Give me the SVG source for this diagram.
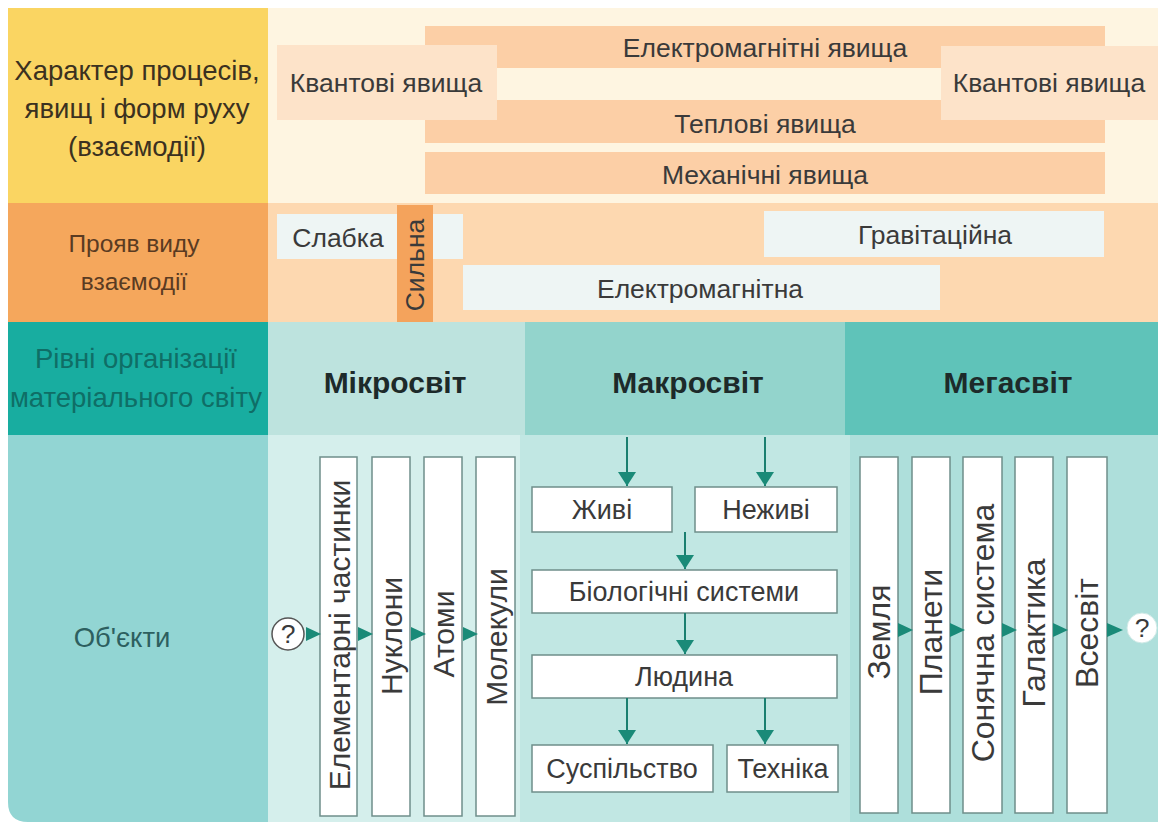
<svg xmlns="http://www.w3.org/2000/svg" width="1158" height="826" viewBox="0 0 1158 826">
<defs>
<style>
text{font-family:"Liberation Sans",Arial,sans-serif;fill:#3a3a3a;}
.hdr{font-size:27.5px;text-anchor:middle;}
.hdr2{font-size:24.5px;text-anchor:middle;fill:#5a3b22;}
.lbl{font-size:26.5px;text-anchor:middle;dominant-baseline:central;}
.mac{font-size:27px;text-anchor:middle;dominant-baseline:central;}
.rot{font-size:30px;text-anchor:middle;dominant-baseline:central;}
.rot2{font-size:32px;text-anchor:middle;dominant-baseline:central;}
.big{font-size:30px;font-weight:bold;text-anchor:middle;dominant-baseline:central;fill:#1d2a2a;}
.box{fill:#ffffff;stroke:#6f8f8b;stroke-width:1.5;}
.wire{stroke:#1a7f70;stroke-width:2;fill:none;}
.tri{fill:#1a8a78;}
.lite{fill:#eef5f4;}
</style>
<marker id="ah" markerWidth="14" markerHeight="18" refX="14" refY="9" orient="auto" markerUnits="userSpaceOnUse">
<path d="M0,0 L14,9 L0,18 z" fill="#1a8a78"/>
</marker>
</defs>
<rect width="1158" height="826" fill="#ffffff"/>

<!-- Row 1 -->
<g id="row1">
<rect x="8" y="8" width="260" height="195" fill="#fad562"/>
<rect x="268" y="8" width="890" height="195" fill="#fef5e1"/>
<rect x="425" y="26" width="680" height="42" fill="#fccfa6"/>
<rect x="425" y="100" width="680" height="43" fill="#fccfa6"/>
<rect x="425" y="152" width="680" height="42" fill="#fccfa6"/>
<rect x="277" y="45" width="220" height="75" fill="#fde3c9"/>
<rect x="941" y="46" width="217" height="74" fill="#fde3c9"/>
<text class="hdr" x="137" y="80" style="fill:#3b3120">Характер процесів,</text>
<text class="hdr" x="137" y="118" style="fill:#3b3120">явищ і форм руху</text>
<text class="hdr" x="137" y="156" style="fill:#3b3120">(взаємодії)</text>
</g>
<g id="em-phen"><text class="lbl" x="765" y="48">Електромагнітні явища</text></g>
<g id="quant-left"><text class="lbl" x="386" y="83">Квантові явища</text></g>
<g id="quant-right"><text class="lbl" x="1049" y="83">Квантові явища</text></g>
<g id="thermal"><text class="lbl" x="765" y="124">Теплові явища</text></g>
<g id="mech"><text class="lbl" x="765" y="175">Механічні явища</text></g>

<!-- Row 2 -->
<g id="row2">
<rect x="8" y="203" width="260" height="119" fill="#f5a75c"/>
<rect x="268" y="203" width="890" height="119" fill="#fdd8b0"/>
<text class="hdr2" x="134" y="252">Прояв виду</text>
<text class="hdr2" x="134" y="290">взаємодії</text>
</g>
<g id="weak">
<rect class="lite" x="277" y="214" width="186" height="45"/>
<text class="lbl" x="338" y="238">Слабка</text>
</g>
<g id="strong">
<rect x="397" y="205" width="36" height="117" fill="#f4a35c"/>
<text class="lbl" transform="translate(415,265) rotate(-90)" x="0" y="0">Сильна</text>
</g>
<g id="grav">
<rect class="lite" x="764" y="211" width="340" height="46"/>
<text class="lbl" x="935" y="235">Гравітаційна</text>
</g>
<g id="em">
<rect class="lite" x="463" y="265" width="477" height="45"/>
<text class="lbl" x="700" y="289">Електромагнітна</text>
</g>

<!-- Row 3 -->
<g id="row3">
<rect x="8" y="322" width="260" height="113" fill="#18ada0"/>
<text class="hdr" x="136" y="368" style="fill:#0f6e66">Рівні організації</text>
<text class="hdr" x="136" y="407" style="fill:#0f6e66">матеріального світу</text>
</g>
<g id="micro-h"><rect x="268" y="322" width="257" height="113" fill="#bde3de"/><text class="big" x="395" y="382">Мікросвіт</text></g>
<g id="macro-h"><rect x="525" y="322" width="320" height="113" fill="#93d4cc"/><text class="big" x="688" y="382">Макросвіт</text></g>
<g id="mega-h"><rect x="845" y="322" width="313" height="113" fill="#5fc3b9"/><text class="big" x="1008" y="382">Мегасвіт</text></g>

<!-- Row 4 -->
<g id="row4">
<path d="M8,435 H268 V822 H28 Q8,822 8,802 Z" fill="#92d5d3"/>
<rect x="268" y="435" width="252" height="387" fill="#d5efec"/>
<rect x="520" y="435" width="330" height="387" fill="#c1e7e3"/>
<rect x="850" y="435" width="308" height="387" fill="#aedfdb"/>
<text class="hdr" x="122" y="647" style="fill:#2d5f5f">Об'єкти</text>
</g>

<g id="q-left"><circle cx="288" cy="634" r="16" fill="#ffffff" stroke="#555" stroke-width="1.5"/><text class="lbl" x="288" y="634">?</text></g>
<g id="elem"><rect class="box" x="320" y="457" width="37" height="359"/><text class="rot" transform="translate(339,635) rotate(-90)">Елементарні частинки</text></g>
<g id="nucl"><rect class="box" x="372" y="457" width="38" height="359"/><text class="rot" transform="translate(391,636) rotate(-90)">Нуклони</text></g>
<g id="atoms"><rect class="box" x="424" y="457" width="38" height="359"/><text class="rot" transform="translate(443,634) rotate(-90)">Атоми</text></g>
<g id="mol"><rect class="box" x="476" y="457" width="39" height="359"/><text class="rot" transform="translate(496,637) rotate(-90)">Молекули</text></g>

<g id="alive"><rect class="box" x="532" y="487" width="140" height="45"/><text class="mac" x="602" y="510">Живі</text></g>
<g id="nonalive"><rect class="box" x="695" y="487" width="142" height="45"/><text class="mac" x="766" y="510">Неживі</text></g>
<g id="bio"><rect class="box" x="532" y="570" width="305" height="43"/><text class="mac" x="684" y="592">Біологічні системи</text></g>
<g id="human"><rect class="box" x="532" y="655" width="305" height="43"/><text class="mac" x="684" y="677">Людина</text></g>
<g id="society"><rect class="box" x="532" y="745" width="181" height="47"/><text class="mac" x="622" y="769">Суспільство</text></g>
<g id="tech"><rect class="box" x="727" y="745" width="111" height="47"/><text class="mac" x="783" y="769">Техніка</text></g>

<g id="earth"><rect class="box" x="860" y="457" width="38" height="356"/><text class="rot2" transform="translate(879,632) rotate(-90)">Земля</text></g>
<g id="planets"><rect class="box" x="912" y="457" width="38" height="356"/><text class="rot2" transform="translate(931,632) rotate(-90)">Планети</text></g>
<g id="solar"><rect class="box" x="963" y="457" width="39" height="356"/><text class="rot2" transform="translate(983,633) rotate(-90)">Сонячна система</text></g>
<g id="galaxy"><rect class="box" x="1015" y="457" width="38" height="356"/><text class="rot2" transform="translate(1034,633) rotate(-90)">Галактика</text></g>
<g id="universe"><rect class="box" x="1067" y="457" width="40" height="356"/><text class="rot2" transform="translate(1087,633) rotate(-90)">Всесвіт</text></g>
<g id="q-right"><circle cx="1142" cy="628" r="15" fill="#ffffff" stroke="#cfe9e6" stroke-width="1"/><text class="lbl" x="1142" y="628">?</text></g>

<!-- Connectors -->
<g id="connectors">
<line class="wire" x1="627" y1="437" x2="627" y2="486" marker-end="url(#ah)"/>
<line class="wire" x1="765" y1="437" x2="765" y2="486" marker-end="url(#ah)"/>
<line class="wire" x1="685" y1="532" x2="685" y2="569" marker-end="url(#ah)"/>
<line class="wire" x1="685" y1="613" x2="685" y2="654" marker-end="url(#ah)"/>
<line class="wire" x1="627" y1="698" x2="627" y2="744" marker-end="url(#ah)"/>
<line class="wire" x1="765" y1="698" x2="765" y2="744" marker-end="url(#ah)"/>
<polygon class="tri" points="306,627 321,634 306,641"/>
<polygon class="tri" points="358,627 373,634 358,641"/>
<polygon class="tri" points="411,627 426,634 411,641"/>
<polygon class="tri" points="463,627 478,634 463,641"/>
<polygon class="tri" points="898,623 913,630 898,637"/>
<polygon class="tri" points="950,623 965,630 950,637"/>
<polygon class="tri" points="1002,623 1017,630 1002,637"/>
<polygon class="tri" points="1053,623 1068,630 1053,637"/>
<polygon class="tri" points="1107,623 1123,630 1107,637"/>
</g>
</svg>
